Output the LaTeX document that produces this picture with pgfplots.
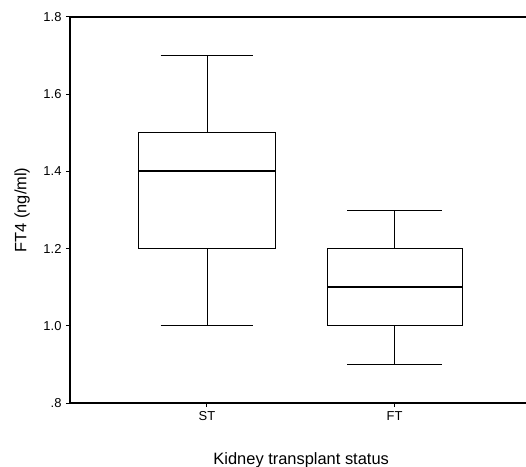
\documentclass[border=0pt]{standalone}
\usepackage{fontspec}
\setmainfont{Liberation Sans}
\usepackage{pgfplots}
\pgfplotsset{compat=1.18}
\usepgfplotslibrary{statistics}
\begin{document}
\begin{tikzpicture}[x=1bp,y=1bp]
\begin{axis}[
  name=ax,
  at={(0,0)}, anchor=south west,
  scale only axis,
  width=456bp, height=386bp,
  xmin=0.27, xmax=2.7,
  ymin=0.8, ymax=1.8,
  axis lines=left,
  axis line style={-, line width=1.1bp},
  tick align=outside,
  major tick length=4bp,
  tick style={black, line width=1bp},
  xtick={1,2}, xticklabels={ST,FT},
  ytick={0.8,1.0,1.2,1.4,1.6,1.8},
  yticklabels={.8,1.0,1.2,1.4,1.6,1.8},
  /pgf/number format/assume math mode=true,
  ticklabel style={font=\fontsize{13}{15}\selectfont},
  xticklabel style={yshift=-1bp},
  yticklabel style={xshift=-1bp},
  xlabel={Kidney transplant status},
  ylabel={FT4 (ng/ml)},
  xlabel style={at={(axis description cs:0.507,-0.148)}, anchor=center, font=\fontsize{16.5}{18}\selectfont},
  ylabel style={at={(axis description cs:-0.105,0.5)}, anchor=center, font=\fontsize{16.5}{18}\selectfont},
  clip=false,
  boxplot/draw direction=y,
]
\addplot+[black, solid, line width=0.8bp, mark=none,
  boxplot/every median/.style={line width=1.8bp},
  boxplot prepared={draw position=1, lower whisker=1.0, lower quartile=1.2, median=1.4, upper quartile=1.5, upper whisker=1.7, box extend=0.73, whisker extend=0.495}]
  coordinates {};
\addplot+[black, solid, line width=0.8bp, mark=none,
  boxplot/every median/.style={line width=1.8bp},
  boxplot prepared={draw position=2, lower whisker=0.9, lower quartile=1.0, median=1.1, upper quartile=1.2, upper whisker=1.3, box extend=0.72, whisker extend=0.505}]
  coordinates {};
\draw[line width=1.1bp] (rel axis cs:0,1) -- (rel axis cs:1,1);
\end{axis}
\pgfresetboundingbox
\path[use as bounding box] (-70bp,-64bp) rectangle (456bp,403bp);
\end{tikzpicture}
\end{document}
